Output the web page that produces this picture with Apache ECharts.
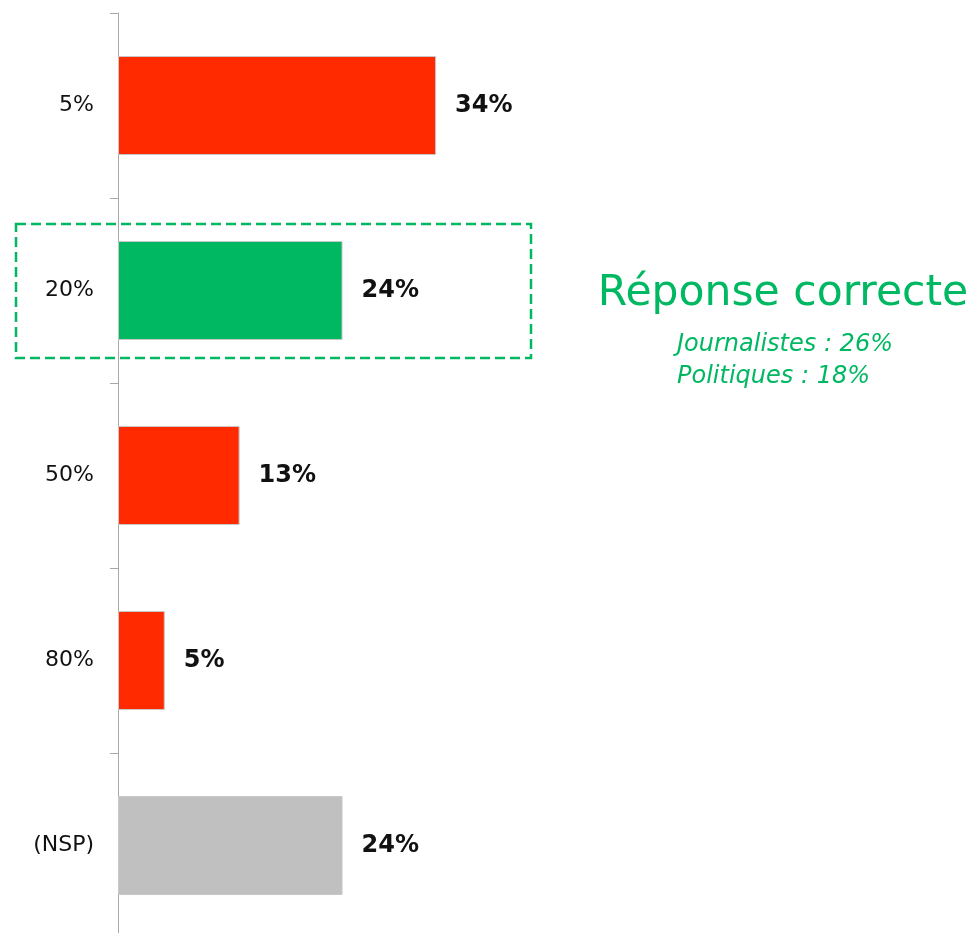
<!DOCTYPE html>
<html>
<head>
<meta charset="utf-8">
<script src="https://cdn.jsdelivr.net/npm/echarts@6/dist/echarts.min.js"></script>
<style>
  html, body { margin: 0; padding: 0; background: #fff; }
  #chart { width: 974px; height: 933px; }
</style>
</head>
<body>
<div id="chart"></div>
<script>
const categories = ['5%', '20%', '50%', '80%', '(NSP)'];
const values = [34, 24, 13, 5, 24];
const barColors = ['#ff2a00', '#00b862', '#ff2a00', '#ff2a00', '#bfc0bf'];
const noteTitle = 'Réponse correcte';
const noteLines = ['Journalistes : 26%', 'Politiques : 18%'];

const green = '#00b862';
const font = '"DejaVu Sans", Verdana, sans-serif';

let myChart = echarts.init(document.getElementById('chart'));
myChart.setOption({
  animation: false,
  grid: { left: 118, right: 14, top: 13, bottom: -5, outerBoundsMode: 'none', containLabel: false },
  xAxis: {
    type: 'value',
    min: 0,
    max: 90,
    show: false
  },
  yAxis: {
    type: 'category',
    inverse: true,
    data: categories,
    axisLine: { show: true, lineStyle: { color: '#a8a8a8', width: 1 } },
    axisTick: { show: true, inside: false, length: 8, lineStyle: { color: '#a8a8a8' } },
    axisLabel: { margin: 24, color: '#111', fontSize: 22, fontFamily: font }
  },
  series: [{
    type: 'bar',
    barWidth: 99,
    data: values.map((v, i) => ({
      value: v,
      itemStyle: { color: barColors[i], borderColor: '#c8c8c8', borderWidth: 1 }
    })),
    label: {
      show: true,
      position: 'right',
      distance: 19,
      formatter: '{c}%',
      color: '#111',
      fontSize: 24,
      fontWeight: 'bold',
      fontFamily: font
    }
  }],
  graphic: [
    {
      type: 'rect',
      shape: { x: 16, y: 224, width: 515, height: 134 },
      style: { fill: 'none', stroke: green, lineWidth: 2.5, lineDash: [10, 5] },
      z: 10
    },
    {
      type: 'text',
      x: 783,
      y: 294,
      style: {
        text: noteTitle,
        fill: green,
        fontSize: 42.5,
        fontFamily: font,
        align: 'center',
        verticalAlign: 'middle'
      }
    },
    {
      type: 'text',
      x: 677,
      y: 345,
      style: {
        text: noteLines[0],
        fill: green,
        fontSize: 24,
        fontStyle: 'italic',
        fontFamily: font,
        verticalAlign: 'middle'
      }
    },
    {
      type: 'text',
      x: 677,
      y: 377,
      style: {
        text: noteLines[1],
        fill: green,
        fontSize: 24,
        fontStyle: 'italic',
        fontFamily: font,
        verticalAlign: 'middle'
      }
    }
  ]
});
</script>
</body>
</html>
